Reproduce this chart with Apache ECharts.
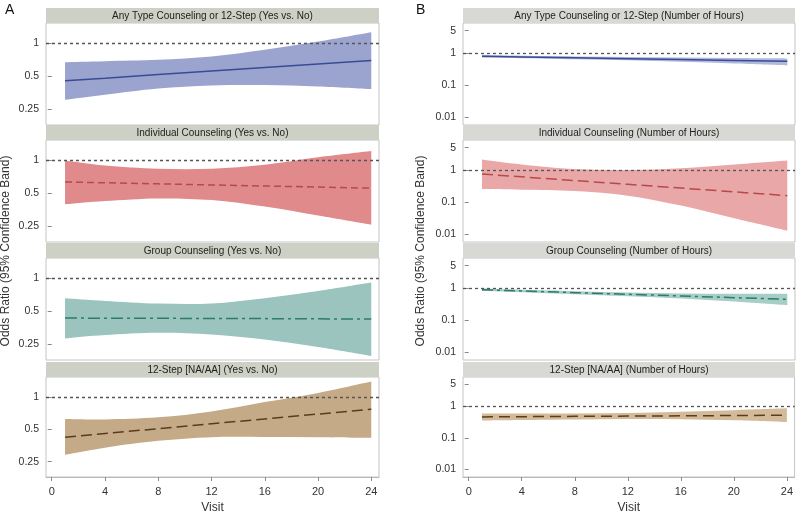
<!DOCTYPE html>
<html><head><meta charset="utf-8">
<script src="https://cdn.jsdelivr.net/npm/echarts@6/dist/echarts.min.js"></script>
<style>html,body{margin:0;padding:0;background:#fff}#c{width:796px;height:515px}</style>
</head><body><div id="c"></div><script>
// ---------- data ----------
const visits = [1, 4, 8, 12, 16, 20, 24];
const xTicks = [0, 4, 8, 12, 16, 20, 24];
const yTicksA = [0.25, 0.5, 1];
const yTicksB = [0.01, 0.1, 1, 5];
const titlesA = ['Any Type Counseling or 12-Step (Yes vs. No)', 'Individual Counseling (Yes vs. No)', 'Group Counseling (Yes vs. No)', '12-Step [NA/AA] (Yes vs. No)'];
const titlesB = ['Any Type Counseling or 12-Step (Number of Hours)', 'Individual Counseling (Number of Hours)', 'Group Counseling (Number of Hours)', '12-Step [NA/AA] (Number of Hours)'];

// Panel A (Yes vs. No)
const anyYesEst = [0.456, 0.482, 0.520, 0.560, 0.603, 0.650, 0.700];
const anyYesLo  = [0.306, 0.340, 0.388, 0.414, 0.417, 0.405, 0.383];
const anyYesHi  = [0.675, 0.690, 0.710, 0.761, 0.875, 1.043, 1.269];
const indYesEst = [0.637, 0.626, 0.612, 0.598, 0.585, 0.572, 0.559];
const indYesLo  = [0.398, 0.426, 0.450, 0.435, 0.379, 0.314, 0.259];
const indYesHi  = [1.00, 0.90, 0.84, 0.84, 0.914, 1.07, 1.22];
const grpYesEst = [0.435, 0.434, 0.433, 0.431, 0.430, 0.428, 0.426];
const grpYesLo  = [0.283, 0.304, 0.319, 0.308, 0.277, 0.237, 0.196];
const grpYesHi  = [0.66, 0.624, 0.59, 0.59, 0.66, 0.77, 0.92];
const stepYesEst = [0.423, 0.458, 0.508, 0.564, 0.626, 0.695, 0.772];
const stepYesLo  = [0.290, 0.338, 0.391, 0.423, 0.425, 0.423, 0.417];
const stepYesHi  = [0.625, 0.62, 0.648, 0.735, 0.90, 1.095, 1.40];

// Panel B (Number of Hours)
const anyHrsEst = [0.79, 0.753, 0.707, 0.664, 0.623, 0.585, 0.55];
const anyHrsLo  = [0.72, 0.69, 0.64, 0.59, 0.53, 0.47, 0.41];
const anyHrsHi  = [0.86, 0.82, 0.78, 0.75, 0.72, 0.70, 0.68];
const indHrsEst = [0.75, 0.612, 0.467, 0.356, 0.272, 0.207, 0.158];
const indHrsLo  = [0.255, 0.243, 0.22, 0.158, 0.077, 0.031, 0.0127];
const indHrsHi  = [2.15, 1.5, 1.07, 1.0, 1.13, 1.5, 2.0];
const grpHrsEst = [0.887, 0.811, 0.718, 0.637, 0.564, 0.500, 0.443];
const grpHrsLo  = [0.81, 0.74, 0.64, 0.55, 0.47, 0.38, 0.29];
const grpHrsHi  = [0.96, 0.88, 0.80, 0.73, 0.68, 0.66, 0.66];
const stepHrsEst = [0.464, 0.472, 0.482, 0.492, 0.502, 0.513, 0.523];
const stepHrsLo  = [0.356, 0.37, 0.385, 0.395, 0.39, 0.36, 0.316];
const stepHrsHi  = [0.60, 0.60, 0.60, 0.62, 0.68, 0.76, 0.87];

// ---------- styling ----------
const FONT = 'Liberation Sans, Arial, sans-serif';
const tops = [23, 140, 258, 377];
const plotH = 102;
const hdrH = 15;
const colA = {left: 46, width: 333};
const colB = {left: 463, width: 332};
const lineColors = ['#3b4a95', '#b54a4b', '#2c7b6c', '#5a3d1e'];
const bandColorsA = ['#9ba4cf', '#e08a8b', '#9ac4bd', '#c4aa87'];
const bandColorsB = ['#b0b8de', '#eaa7a7', '#a6cdc6', '#d3ba98'];
const dashTypes = ['solid', [7, 4], [12, 4, 3, 4], [11, 5]];
const dashTypesB = ['solid', [11, 5], [11, 4, 3, 4], [11, 6]];

const panelsA = [[anyYesEst, anyYesLo, anyYesHi], [indYesEst, indYesLo, indYesHi], [grpYesEst, grpYesLo, grpYesHi], [stepYesEst, stepYesLo, stepYesHi]];
const panelsB = [[anyHrsEst, anyHrsLo, anyHrsHi], [indHrsEst, indHrsLo, indHrsHi], [grpHrsEst, grpHrsLo, grpHrsHi], [stepHrsEst, stepHrsLo, stepHrsHi]];

function smoothSeg(pts) {
  let d = '';
  for (let i = 0; i < pts.length - 1; i++) {
    const p0 = pts[Math.max(i - 1, 0)], p1 = pts[i], p2 = pts[i + 1], p3 = pts[Math.min(i + 2, pts.length - 1)];
    const c1 = [p1[0] + (p2[0] - p0[0]) / 6, p1[1] + (p2[1] - p0[1]) / 6];
    const c2 = [p2[0] - (p3[0] - p1[0]) / 6, p2[1] - (p3[1] - p1[1]) / 6];
    d += ' C ' + c1[0] + ' ' + c1[1] + ' ' + c2[0] + ' ' + c2[1] + ' ' + p2[0] + ' ' + p2[1];
  }
  return d;
}

const grids = [], xAxes = [], yAxes = [], series = [], graphics = [];

function addPanel(idx, col, row, data, isB) {
  const [est, lo, hi] = data;
  grids.push({left: col.left, width: col.width, top: tops[row], height: plotH, show: true,
    borderColor: '#c4c4c4', borderWidth: 1, backgroundColor: '#fff'});
  const last = row === 3;
  xAxes.push({type: 'value', gridIndex: idx, min: -0.43, max: 24.58,
    axisLine: {show: last, lineStyle: {color: '#b8b8b8'}},
    axisTick: {show: last, customValues: xTicks, length: 4, lineStyle: {color: '#888'}},
    axisLabel: {show: last, customValues: xTicks, margin: 9, fontSize: 11, color: '#333', fontFamily: FONT},
    splitLine: {show: false},
    name: last ? 'Visit' : '', nameLocation: 'middle', nameGap: 25,
    nameTextStyle: {fontSize: 12, color: '#333', fontFamily: FONT}});
  const yt = isB ? yTicksB : yTicksA;
  yAxes.push({type: 'log', gridIndex: idx, logBase: isB ? 10 : 2,
    min: isB ? 0.0056 : 0.18, max: isB ? 8.7 : 1.54,
    axisLine: {show: false},
    axisTick: {show: true, customValues: yt, length: 4, lineStyle: {color: '#888'}},
    axisLabel: {customValues: yt, margin: 7, fontSize: 10.5, color: '#333', fontFamily: FONT,
      formatter: v => String(v)},
    splitLine: {show: false}});
  const bandColor = (isB ? bandColorsB : bandColorsA)[row];
  series.push({type: 'custom', xAxisIndex: idx, yAxisIndex: idx, z: 2, silent: true,
    data: visits.map((v, k) => [v, lo[k], hi[k]]),
    renderItem: (params, api) => {
      if (params.dataIndex !== 0) return null;
      const up = visits.map((v, k) => api.coord([v, hi[k]]));
      const dn = visits.map((v, k) => api.coord([v, lo[k]])).reverse();
      const d = 'M ' + up[0][0] + ' ' + up[0][1] + smoothSeg(up) +
        ' L ' + dn[0][0] + ' ' + dn[0][1] + smoothSeg(dn) + ' Z';
      return {type: 'path', shape: {pathData: d}, style: {fill: bandColor}};
    }});
  series.push({type: 'line', xAxisIndex: idx, yAxisIndex: idx, z: 3, silent: true,
    data: visits.map((v, k) => [v, est[k]]), showSymbol: false, symbol: 'none',
    lineStyle: {color: lineColors[row], width: 1.5, type: (isB ? dashTypesB : dashTypes)[row]},
    markLine: {silent: true, symbol: 'none', label: {show: false},
      lineStyle: {color: '#555', width: 1.3, type: [3, 3]},
      data: [{yAxis: 1}]}});
  graphics.push({type: 'rect', shape: {x: col.left, y: tops[row] - hdrH, width: col.width, height: hdrH},
    style: {fill: isB ? '#d8d9d4' : '#cdd0c4'}, z: 1});
  graphics.push({type: 'text', x: col.left + col.width / 2, y: tops[row] - hdrH / 2 + 0.5, z: 2,
    style: {text: (isB ? titlesB : titlesA)[row], fontSize: 10, fontFamily: FONT, fill: '#222',
      align: 'center', verticalAlign: 'middle'}});
}

for (let r = 0; r < 4; r++) addPanel(r, colA, r, panelsA[r], false);
for (let r = 0; r < 4; r++) addPanel(4 + r, colB, r, panelsB[r], true);

graphics.push({type: 'text', x: 5, y: 3, style: {text: 'A', fontSize: 14, fontFamily: FONT, fill: '#111'}});
graphics.push({type: 'text', x: 416, y: 3, style: {text: 'B', fontSize: 14, fontFamily: FONT, fill: '#111'}});
graphics.push({type: 'text', x: 6, y: 251, rotation: Math.PI / 2,
  style: {text: 'Odds Ratio (95% Confidence Band)', fontSize: 12, fontFamily: FONT, fill: '#333', align: 'center', verticalAlign: 'middle'}});
graphics.push({type: 'text', x: 421, y: 251, rotation: Math.PI / 2,
  style: {text: 'Odds Ratio (95% Confidence Band)', fontSize: 12, fontFamily: FONT, fill: '#333', align: 'center', verticalAlign: 'middle'}});

const chart = echarts.init(document.getElementById('c'), null, {renderer: 'canvas'});
chart.setOption({animation: false, backgroundColor: '#fff', grid: grids, xAxis: xAxes, yAxis: yAxes, series: series, graphic: graphics});
</script></body></html>
